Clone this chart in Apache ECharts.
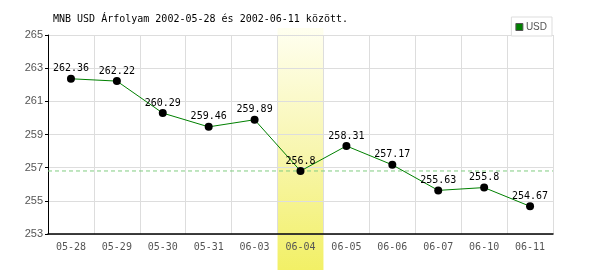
<!DOCTYPE html>
<html>
<head>
<meta charset="utf-8">
<script src="https://cdn.jsdelivr.net/npm/echarts@6/dist/echarts.min.js"></script>
<style>html,body{margin:0;padding:0;background:#fff}#c{width:600px;height:270px}</style>
</head>
<body>
<div id="c"></div>
<script>
var titleText = 'MNB USD Árfolyam 2002-05-28 és 2002-06-11 között.';
var categories = ['05-28','05-29','05-30','05-31','06-03','06-04','06-05','06-06','06-07','06-10','06-11'];
var usdValues = [262.36, 262.22, 260.29, 259.46, 259.89, 256.8, 258.31, 257.17, 255.63, 255.8, 254.67];
var highlightCategory = '06-04';
var referenceValue = 256.8;
var yMin = 253, yMax = 265, yStep = 2;

var bandData = categories.map(function (c) { return c === highlightCategory ? 1 : null; });
var refLineData = [[0, referenceValue], [1, referenceValue]];

var chart = echarts.init(document.getElementById('c'));
chart.setOption({
  animation: false,
  backgroundColor: '#fff',
  title: {
    text: titleText, left: 48, top: 9,
    textStyle: { fontFamily: 'DejaVu Sans Mono', fontSize: 10, fontWeight: 'normal', color: '#000' }
  },
  legend: {
    data: ['USD'], right: 48, top: 17,
    backgroundColor: '#fff', borderColor: '#ddd', borderWidth: 1,
    padding: [5, 5, 4, 4], itemWidth: 7, itemHeight: 7, itemGap: 4,
    icon: 'rect',
    itemStyle: { color: '#008000', borderColor: '#555', borderWidth: 1 },
    textStyle: { fontFamily: 'Liberation Sans', fontSize: 10, color: '#555', padding: [0, 0, 0, -2] }
  },
  grid: [
    { left: 48, right: 47, top: 35, bottom: 36 },
    { left: 48, right: 47, top: 28, bottom: 0 }
  ],
  xAxis: [
    {
      type: 'category', data: categories, gridIndex: 0, boundaryGap: true,
      axisLine: { lineStyle: { color: '#000', width: 1.5 } },
      axisTick: { show: false },
      axisLabel: { fontFamily: 'DejaVu Sans Mono', fontSize: 10, color: '#555', margin: 8 },
      splitLine: { show: true, lineStyle: { color: '#ddd', width: 1 } }
    },
    {
      type: 'category', data: categories, gridIndex: 1, show: false, boundaryGap: true
    },
    { type: 'value', gridIndex: 0, min: 0, max: 1, show: false }
  ],
  yAxis: [
    {
      type: 'value', gridIndex: 0, min: yMin, max: yMax, interval: yStep,
      axisLine: { show: true, lineStyle: { color: '#000', width: 1 } },
      axisTick: { show: true, length: 3, lineStyle: { color: '#000' } },
      axisLabel: { fontFamily: 'Liberation Sans', fontSize: 11, color: '#555', margin: 5 },
      splitLine: { show: true, lineStyle: { color: '#ddd', width: 1 } }
    },
    { type: 'value', gridIndex: 1, min: 0, max: 1, show: false }
  ],
  series: [
    {
      type: 'bar', name: 'band', xAxisIndex: 1, yAxisIndex: 1, data: bandData,
      barWidth: '100%', z: -1, silent: true,
      itemStyle: {
        color: new echarts.graphic.LinearGradient(0, 0, 0, 1, [
          { offset: 0, color: '#fffff0' },
          { offset: 0.5, color: '#f8f6b0' },
          { offset: 1, color: '#f2f066' }
        ])
      }
    },
    {
      type: 'line', name: 'ref', xAxisIndex: 2, yAxisIndex: 0, data: refLineData,
      symbol: 'none', silent: true, z: 1,
      lineStyle: { color: '#80cc80', type: [4, 3], width: 1 },
      emphasis: { disabled: true }
    },
    {
      type: 'line', name: 'USD', data: usdValues, xAxisIndex: 0, yAxisIndex: 0,
      symbol: 'circle', symbolSize: 8,
      lineStyle: { color: '#008000', width: 1 },
      itemStyle: { color: '#000' },
      label: {
        show: true, position: 'top', distance: 1,
        fontFamily: 'DejaVu Sans Mono', fontSize: 10, color: '#000'
      },
      z: 3
    }
  ]
});
</script>
</body>
</html>
